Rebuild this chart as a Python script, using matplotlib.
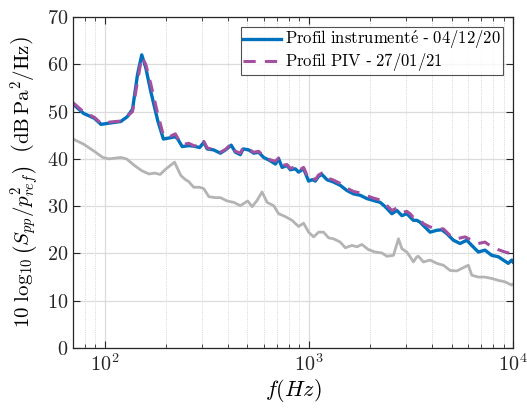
import numpy as np
import matplotlib
matplotlib.use('Agg')
import matplotlib.pyplot as plt
from matplotlib.ticker import LogLocator, NullFormatter

plt.rcParams['mathtext.fontset'] = 'cm'
plt.rcParams['font.family'] = ['cmr10', 'DejaVu Serif']
plt.rcParams['axes.formatter.use_mathtext'] = True

# --- Profil instrumenté (bleu) ---
f_instr = [70, 79, 89, 96, 107, 120, 129, 137, 145, 152, 159, 168, 182, 194, 206,
           222, 228, 240, 258, 273, 292, 306, 318, 342, 369, 391, 417, 437, 462, 477,
           508, 537, 568, 601, 648, 686, 712, 740, 782, 812, 859, 891, 943, 998, 1040,
           1076, 1117, 1160, 1227, 1322, 1426, 1538, 1656, 1786, 1926, 2075, 2237, 2366,
           2552, 2700, 2856, 3021, 3135, 3254, 3381, 3509, 3642, 3928, 4237, 4480, 4740,
           5105, 5507, 5937, 6281, 6767, 7295, 7866, 8475, 8965, 9484, 9854, 10000]
spl_instr = [51.6, 49.6, 48.6, 47.3, 47.6, 47.9, 48.9, 50.5, 57.9, 62.0, 59.3, 54.4, 48.1, 44.2, 44.4,
             44.7, 44.2, 42.6, 42.8, 42.7, 42.4, 43.5, 42.1, 41.9, 41.2, 41.9, 42.9, 41.4, 40.9, 42.1,
             41.9, 41.2, 41.4, 40.3, 39.6, 38.9, 40.0, 38.2, 38.6, 37.7, 37.9, 37.2, 37.9, 35.3, 35.6,
             35.3, 36.3, 36.7, 35.6, 35.1, 34.4, 33.3, 32.6, 32.3, 31.6, 31.2, 30.8, 29.9,
             28.4, 29.1, 28.0, 28.4, 27.7, 27.0, 27.0, 26.6, 25.9, 24.5, 24.9, 25.0, 24.2,
             22.8, 22.1, 22.8, 21.7, 20.3, 20.7, 19.6, 19.3, 18.6, 17.9, 18.6, 18.2]

# --- Profil PIV (violet, tirets) ---
f_piv = [70, 79, 89, 96, 107, 120, 129, 137, 145, 152, 159, 168, 182, 194, 206,
         222, 228, 240, 258, 273, 292, 306, 318, 342, 369, 391, 417, 437, 462, 477,
         508, 537, 568, 601, 648, 686, 712, 740, 782, 812, 859, 891, 943, 998, 1040,
         1076, 1117, 1160, 1227, 1322, 1426, 1538, 1656, 1786, 1926, 2075, 2237, 2366,
         2552, 2700, 2856, 3021, 3135, 3254, 3381, 3509, 3642, 3928, 4237, 4563, 4920,
         5304, 5826, 6281, 6767, 7295, 7866, 8475, 9139, 9854, 10000]
spl_piv = [51.9, 49.9, 48.8, 47.5, 47.8, 48.0, 49.0, 50.0, 56.5, 61.5, 60.0, 56.0, 49.5, 45.0, 44.6,
           45.3, 44.4, 43.0, 43.3, 42.8, 42.6, 43.7, 42.3, 42.0, 41.4, 42.0, 43.2, 41.6, 41.2, 42.4,
           42.0, 41.4, 41.6, 40.6, 39.8, 39.5, 40.2, 38.6, 38.8, 38.0, 38.3, 37.5, 38.2, 35.7, 36.0,
           35.6, 36.6, 37.0, 36.0, 35.5, 34.8, 33.8, 33.1, 32.8, 32.2, 31.7, 31.3, 30.5,
           29.1, 29.6, 28.7, 28.9, 28.4, 27.6, 27.5, 27.1, 26.3, 25.6, 25.2, 25.2, 23.8,
           23.1, 23.5, 22.8, 22.1, 22.4, 21.4, 20.8, 20.3, 19.9, 20.0]

# --- Bruit de fond (gris) ---
f_bg = [70, 79, 89, 98, 105, 120, 128, 140, 152, 165, 176, 187, 200, 220, 236,
        249, 258, 273, 292, 306, 324, 349, 369, 398, 429, 462, 502, 528, 558, 590,
        625, 673, 712, 767, 828, 891, 943, 998, 1056, 1117, 1181, 1250, 1322, 1426,
        1509, 1627, 1721, 1820, 1961, 2115, 2280, 2413, 2598, 2749, 2856, 3021, 3135,
        3254, 3381, 3443, 3642, 3928, 4237, 4563, 4920, 5304, 5715, 6045, 6281, 6767,
        7295, 7866, 8475, 9139, 9854, 10000]
spl_bg = [44.2, 43.1, 41.6, 40.3, 40.0, 40.3, 40.0, 38.6, 37.5, 36.8, 37.0, 36.7, 37.9, 39.3, 36.5,
          35.6, 35.2, 34.0, 34.0, 33.7, 32.0, 31.8, 31.8, 31.1, 30.8, 30.1, 31.1, 29.9, 31.2, 33.0,
          30.8, 30.1, 28.4, 27.8, 27.0, 25.7, 26.4, 24.5, 23.5, 24.5, 24.5, 23.3, 23.1, 22.4,
          21.2, 21.7, 21.4, 21.9, 20.8, 20.3, 20.1, 19.4, 19.6, 23.1, 21.0, 20.3, 19.3,
          18.2, 19.3, 19.4, 18.2, 18.6, 17.9, 17.5, 16.4, 16.3, 17.0, 17.5, 15.4, 15.0,
          15.0, 14.7, 14.3, 14.0, 13.3, 13.5]

BLUE = '#0072BD'
PURPLE = '#A450A0'
GRAY = '#B4B4B4'

# libellés de la légende (rendus en mathtext pour garder la police CM)
lab_instr = r'$\mathrm{Profil\ instrument\acute{e}\ ‐\ 04/12/20}$'
lab_piv = r'$\mathrm{Profil\ PIV\ ‐\ 27/01/21}$'

fig = plt.figure(figsize=(5.27, 4.12), dpi=100)
ax = fig.add_axes([0.1385, 0.1553, 0.8349, 0.8034])

ax.plot(f_bg, spl_bg, color=GRAY, lw=2.0)
ax.plot(f_instr, spl_instr, color=BLUE, lw=2.4, label=lab_instr)
ax.plot(f_piv, spl_piv, color=PURPLE, lw=2.2, ls=(0, (4, 3)), label=lab_piv)

ax.set_xscale('log')
ax.set_xlim(70, 1e4)
ax.set_ylim(0, 70)
ax.set_yticks(np.arange(0, 71, 10))
ax.xaxis.set_minor_locator(LogLocator(base=10, subs=np.arange(2, 10)))
ax.xaxis.set_minor_formatter(NullFormatter())

ax.grid(True, which='major', color='#DCDCDC', lw=0.9, ls='-')
ax.grid(True, which='minor', axis='x', color='#C8C8C8', lw=0.6, ls=':')
ax.set_axisbelow(True)

ax.tick_params(which='both', direction='in', top=True, right=True,
               labelsize=14.5, colors='#262626')
ax.tick_params(which='major', length=5, width=0.8)
ax.tick_params(which='minor', length=3, width=0.6)
for s in ax.spines.values():
    s.set_color('#262626')
    s.set_linewidth(0.9)

ax.set_xlabel(r'$f(Hz)$', fontsize=16, labelpad=2)
ax.set_ylabel(r'$10\ \log_{10}\left(S_{pp}/p^2_{ref}\right)\ \ \left(\mathrm{dB\,Pa^2/Hz}\right)$',
              fontsize=15, labelpad=4)

leg = ax.legend(loc='upper right', fontsize=12, frameon=True, fancybox=False,
                handlelength=2.3, handletextpad=0.25, borderpad=0.12,
                labelspacing=0.0, borderaxespad=0.6)
leg.get_frame().set_edgecolor('#262626')
leg.get_frame().set_linewidth(0.8)

fig.savefig('out.png', dpi=100)
